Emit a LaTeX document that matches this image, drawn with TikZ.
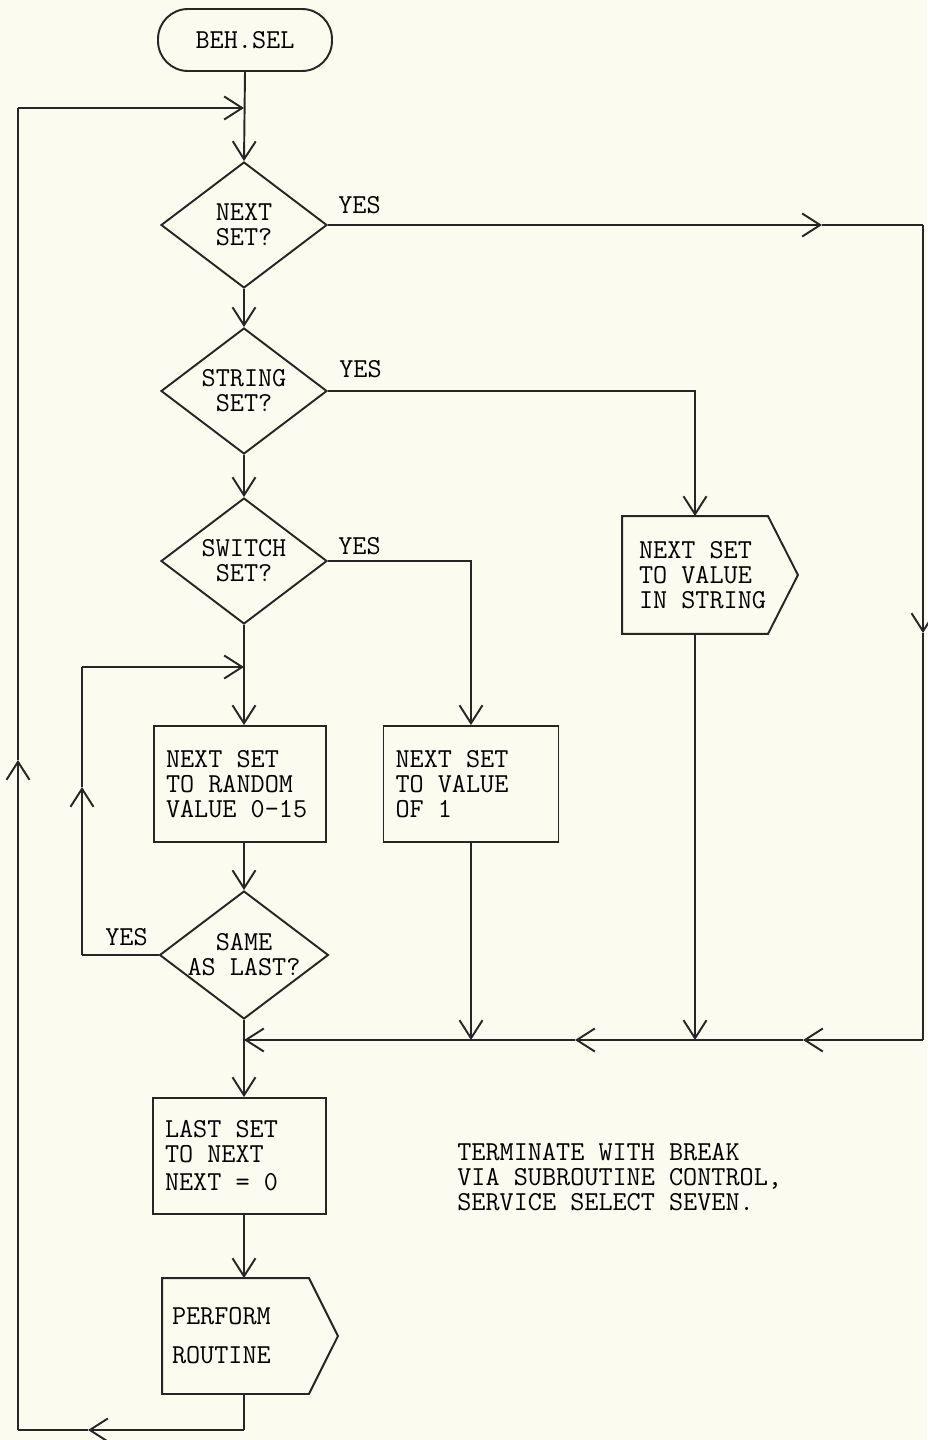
\documentclass[tikz,border=0pt]{standalone}
\usepackage{fontspec}
\usetikzlibrary{shapes.geometric, arrows.meta}
\definecolor{paper}{HTML}{FBFBEF}
\definecolor{ink}{HTML}{262626}

\tikzset{
  flow/.style={line width=1.1pt, draw=ink},
  arr/.style={flow, -{Straight Barb[length=0.36cm, width=0.46cm]}},
  decision/.style={diamond, draw=ink, line width=1.1pt, shape aspect=1.32,
    minimum width=3.32cm, minimum height=2.52cm, inner sep=0pt, align=center},
  procbox/.style={rectangle, draw=ink, line width=1.1pt, minimum height=2.32cm,
    inner xsep=0.24cm, inner ysep=0pt, align=left, text width=#1,
    execute at begin node={\spaceskip=0pt\xspaceskip=0pt\relax}},
  yeslabel/.style={anchor=base west, inner sep=0pt}
}

\begin{document}
\begin{tikzpicture}[x=0.02cm, y=-0.02cm,
    font=\ttfamily\fontsize{15.6pt}{14.2pt}\selectfont]
  \fill[paper] (0,0) rectangle (927,1440);
  \useasboundingbox (0,0) rectangle (927,1440);
  \coordinate (mx) at (244,0);

  % main column
  \node[draw=ink, line width=1.1pt, rounded corners=0.6cm,
    minimum width=3.48cm, minimum height=1.24cm] (beh) at (245,40) {BEH.SEL};
  \node[decision] (nset) at (244,225) {NEXT\\SET?};
  \node[decision] (sset) at (244,391) {STRING\\SET?};
  \node[decision] (wset) at (244,561) {SWITCH\\SET?};
  \node[procbox=2.96cm] (rand) at (240,784) {NEXT SET\\TO RANDOM\\VALUE 0-15};
  \node[decision] (same) at (244,955) {SAME\\AS LAST?};
  \node[procbox=2.98cm] (last) at (239.5,1156) {LAST SET\\TO NEXT\\[0.06cm]NEXT = 0};
  \node[procbox=2.54cm, draw=none, inner xsep=0.18cm, minimum height=2.28cm]
    (perf) at (235.5,1336) {PERFORM\\[0.28cm]ROUTINE};
  \draw[flow] (perf.north west) -- (perf.north east) -- ([xshift=0.58cm]perf.east)
    -- (perf.south east) -- (perf.south west) -- cycle;

  % side boxes
  \node[procbox=2.24cm, draw=none, inner xsep=0.32cm]
    (str) at (695,575) {\mbox{NEXT SET}\\\mbox{TO VALUE}\\\mbox{IN STRING}};
  \draw[flow] (str.north west) -- (str.north east) -- ([xshift=0.6cm]str.east)
    -- (str.south east) -- (str.south west) -- cycle;
  \node[procbox=3.02cm] (one) at (471,784) {NEXT SET\\TO VALUE\\OF 1};

  \node[yeslabel] (yes1) at (338,213) {YES};
  \node[yeslabel] (yes2) at (339,377) {YES};
  \node[yeslabel] (yes3) at (338,554) {YES};
  \node[yeslabel] (yes4) at (105,945) {YES};

  \node[anchor=west, align=left, inner sep=0pt] (note) at (457,1177)
    {TERMINATE WITH BREAK\\VIA SUBROUTINE CONTROL,\\SERVICE SELECT SEVEN.};

  % straight flow
  \draw[arr] (beh.south) -- (nset.north);
  \draw[arr] (nset.south) -- (sset.north);
  \draw[arr] (sset.south) -- (wset.north);
  \draw[arr] (wset.south) -- (wset.south |- rand.north);
  \draw[arr] (rand.south -| mx) -- (same.north);
  \draw[arr] (same.south) -- (same.south |- last.north);
  \draw[arr] (last.south -| mx) -- (perf.north -| mx);

  % outer loop back to the top
  \coordinate (botR) at (244,1430);
  \coordinate (botA) at (88,1430);
  \coordinate (botL) at (18,1430);
  \coordinate (upA) at (18,760);
  \coordinate (topL) at (18,108);
  \coordinate (topR) at (244,108);
  \draw[flow] (perf.south -| mx) -- (botR);
  \draw[arr] (botR) -- (botA);
  \draw[flow] (botA) -- (botL);
  \draw[arr] (botL) -- (upA);
  \draw[flow] (upA) -- (topL);
  \draw[arr] (topL) -- (topR);

  % same as last -> retry
  \coordinate (sameL) at (82,955);
  \coordinate (sameA) at (82,787);
  \coordinate (sameT) at (82,667);
  \coordinate (sameJ) at (244,667);
  \draw[flow] (same.west) -- (sameL);
  \draw[arr] (sameL) -- (sameA);
  \draw[flow] (sameA) -- (sameT);
  \draw[arr] (sameT) -- (sameJ);

  % next set -> right side, back along the bottom
  \coordinate (nA) at (822,225);
  \coordinate (nR) at (923,225);
  \coordinate (rA) at (923,633);
  \coordinate (rB) at (923,1040);
  \coordinate (bA1) at (803,1040);
  \coordinate (bA2) at (575,1040);
  \coordinate (join) at (244,1040);
  \draw[arr] (nset.east) -- (nA);
  \draw[flow] (nA) -- (nR);
  \draw[arr] (nR) -- (rA);
  \draw[flow] (rA) -- (rB);
  \draw[arr] (rB) -- (bA1);
  \draw[arr] (bA1) -- (bA2);
  \draw[arr] (bA2) -- (join);

  \draw[arr] (sset.east) -| (str.north);
  \draw[arr] (wset.east) -| (one.north);
  \draw[arr] (str.south) -- (str.south |- join);
  \draw[arr] (one.south) -- (one.south |- join);
\end{tikzpicture}
\end{document}
